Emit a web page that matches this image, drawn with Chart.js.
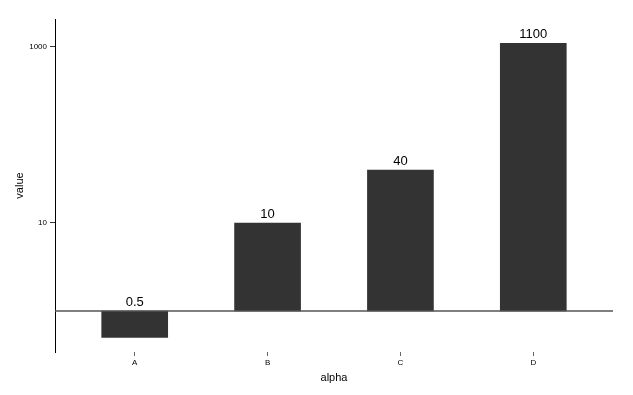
<!DOCTYPE html>
<html>
<head>
<meta charset="utf-8">
<script src="https://cdn.jsdelivr.net/npm/chart.js@4/dist/chart.umd.min.js"></script>
<style>
  body { margin: 0; background: #fff; }
  #wrap { width: 633px; height: 395px; }
</style>
</head>
<body>
<div id="wrap"><canvas id="barChart"></canvas></div>
<script>
const categories = ['A', 'B', 'C', 'D'];
const values = [0.5, 10, 40, 1100];
const valueLabels = ['0.5', '10', '40', '1100'];
const yTicks = [10, 1000];
const baseline = 1;

// bar labels above the top edge of each bar
const barLabels = {
    id: 'barLabels',
    afterDatasetsDraw(chart) {
        const ctx = chart.ctx;
        const meta = chart.getDatasetMeta(0);
        ctx.save();
        ctx.font = '13px "Liberation Sans", Arial, sans-serif';
        ctx.fillStyle = '#000';
        ctx.textAlign = 'center';
        ctx.textBaseline = 'alphabetic';
        meta.data.forEach((bar, i) => {
            const top = Math.min(bar.y, bar.base);
            ctx.fillText(valueLabels[i], bar.x, top - 5);
        });
        ctx.restore();
    }
};

// horizontal reference line at y = 1
const baseLine = {
    id: 'baseLine',
    afterDatasetsDraw(chart) {
        const ctx = chart.ctx;
        const area = chart.chartArea;
        const y = chart.scales.y.getPixelForValue(baseline);
        ctx.save();
        ctx.strokeStyle = '#555';
        ctx.lineWidth = 1.5;
        ctx.beginPath();
        ctx.moveTo(area.left, y);
        ctx.lineTo(area.right, y);
        ctx.stroke();
        ctx.restore();
    }
};

const ctx = document.getElementById('barChart').getContext('2d');

new Chart(ctx, {
    type: 'bar',
    data: {
        datasets: [{
            data: values.map((v, i) => ({ x: i, y: [baseline, v] })),
            backgroundColor: '#333333',
            borderWidth: 0,
            barThickness: 66,
        }],
    },
    options: {
        responsive: true,
        maintainAspectRatio: false,
        animation: false,
        layout: { padding: { top: 19, right: 20, left: 0, bottom: 0 } },
        plugins: {
            legend: { display: false },
            tooltip: { enabled: false },
        },
        scales: {
            x: {
                type: 'linear',
                min: -0.6,
                max: 3.6,
                offset: false,
                bounds: 'data',
                afterBuildTicks: scale => {
                    scale.ticks = categories.map((c, i) => ({ value: i }));
                },
                afterFit: scale => { scale.height = 43; },
                border: { display: false },
                grid: {
                    offset: false,
                    drawOnChartArea: false,
                    drawTicks: true,
                    tickLength: 4,
                    color: '#666',
                },
                ticks: {
                    callback: v => categories[v],
                    color: '#000',
                    padding: 2,
                    font: { family: '"Liberation Sans", Arial, sans-serif', size: 8 },
                },
                title: {
                    display: true,
                    text: 'alpha',
                    color: '#000',
                    padding: { top: 0, bottom: 10 },
                    font: { family: '"Liberation Sans", Arial, sans-serif', size: 11 },
                },
            },
            y: {
                type: 'logarithmic',
                min: 0.342,
                max: 2080,
                bounds: 'data',
                afterBuildTicks: scale => {
                    scale.ticks = yTicks.map(v => ({ value: v }));
                },
                afterFit: scale => { scale.width = 55; },
                border: { display: true, color: '#000', width: 1 },
                grid: {
                    drawOnChartArea: false,
                    drawTicks: true,
                    tickLength: 5,
                    color: '#333',
                },
                ticks: {
                    callback: v => String(v),
                    color: '#000',
                    padding: 3,
                    font: { family: '"Liberation Sans", Arial, sans-serif', size: 8 },
                },
                title: {
                    display: true,
                    text: 'value',
                    color: '#000',
                    padding: { top: 13, bottom: 0 },
                    font: { family: '"Liberation Sans", Arial, sans-serif', size: 11 },
                },
            },
        },
    },
    plugins: [baseLine, barLabels],
});
</script>
</body>
</html>
